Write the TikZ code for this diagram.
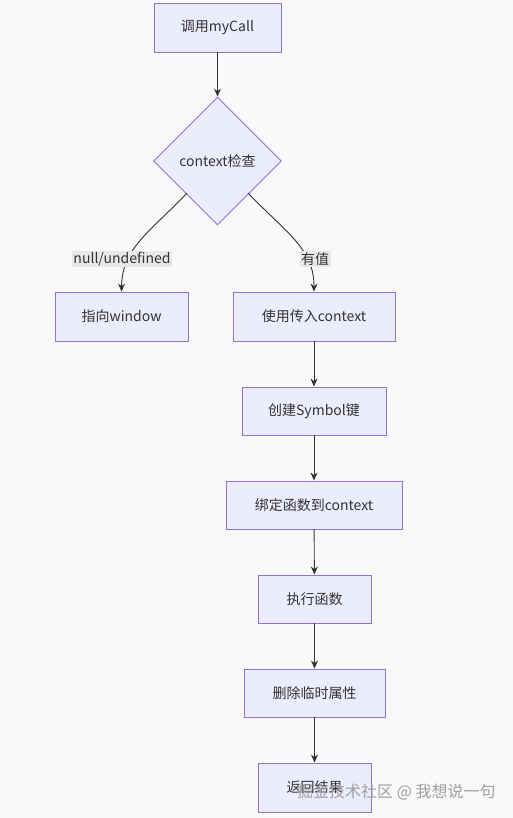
\documentclass[tikz,border=0pt]{standalone}
\usepackage{fontspec}
\setmainfont{Noto Sans CJK SC}
\usetikzlibrary{shapes.geometric,arrows.meta}
\definecolor{nodefill}{HTML}{ECECFF}
\definecolor{nodeline}{HTML}{9370DB}
\definecolor{edgecol}{HTML}{333333}
\definecolor{labelbg}{HTML}{E8E8E8}
\definecolor{bgcol}{HTML}{F9F9F9}
\tikzset{
  box/.style={draw=nodeline, fill=nodefill, line width=0.9pt, text=edgecol, font=\fontsize{14}{16}\selectfont, inner sep=0pt, anchor=center},
  decision/.style={diamond, draw=nodeline, fill=nodefill, line width=0.9pt, text=edgecol, font=\fontsize{14}{16}\selectfont, inner sep=0pt, minimum width=128pt, minimum height=128pt, aspect=1},
  conn/.style={draw=edgecol, line width=0.9pt, -{Stealth[length=8pt,width=7pt]}},
  elabel/.style={fill=labelbg, text=edgecol, font=\fontsize{14}{16}\selectfont, inner sep=1.5pt},
}
\begin{document}
\begin{tikzpicture}[x=1pt,y=-1pt]
\fill[bgcol] (0,0) rectangle (513,818);
\useasboundingbox (0,0) rectangle (513,818);
\node[box, minimum width=127pt, minimum height=49pt] (call) at (217.5,27.5) {调用myCall};
\node[decision] (check) at (217.5,161) {context检查};
\node[box, minimum width=133pt, minimum height=49pt] (win) at (121.5,316.5) {指向window};
\node[box, minimum width=162pt, minimum height=49pt] (use) at (314,316.5) {使用传入context};
\node[box, minimum width=144pt, minimum height=48pt] (sym) at (314,411) {创建Symbol键};
\node[box, minimum width=176pt, minimum height=48pt] (bind) at (314,505) {绑定函数到context};
\node[box, minimum width=113pt, minimum height=48pt] (exec) at (314.5,599) {执行函数};
\node[box, minimum width=141pt, minimum height=48pt] (del) at (314.5,693) {删除临时属性};
\node[box, minimum width=113pt, minimum height=49pt] (ret) at (314.5,787.5) {返回结果};

\draw[conn] (call) -- (check);
\coordinate (lA) at (187,193);
\coordinate (rA) at (248,193);
\draw[conn] (lA) .. controls (150,232) and (122,248) .. (win.north);
\draw[conn] (rA) .. controls (285,232) and (314,248) .. (use.north);
\node[elabel] (lnull) at (122,259) {null/undefined};
\node[elabel] (lyes) at (315,259) {有值};
\draw[conn] (use) -- (sym);
\draw[conn] (sym) -- (bind);
\draw[conn] (bind) -- (exec);
\draw[conn] (exec) -- (del);
\draw[conn] (del) -- (ret);

\node[text=gray!75, font=\fontsize{16}{18}\selectfont, anchor=west, inner sep=0pt] (wm) at (297,792) {掘金技术社区 @ 我想说一句};
\end{tikzpicture}
\end{document}
